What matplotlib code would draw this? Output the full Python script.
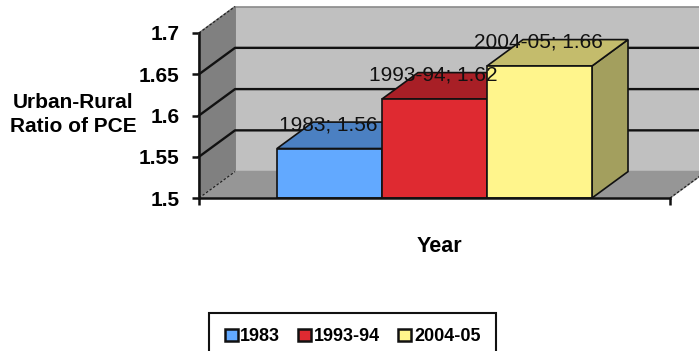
import matplotlib
matplotlib.use("Agg")
import matplotlib.pyplot as plt
from matplotlib.patches import Polygon, Patch

plt.rcParams['font.family'] = ['Liberation Sans', 'DejaVu Sans']

years = ["1983", "1993-94", "2004-05"]
ratios = [1.56, 1.62, 1.66]
y_ticks = [1.5, 1.55, 1.6, 1.65, 1.7]
y_tick_labels = ["1.5", "1.55", "1.6", "1.65", "1.7"]

front_colors = ["#62A9FF", "#DF2A31", "#FFF58C"]
top_colors = ["#4B80C2", "#A81F26", "#C4BC6C"]
side_colors = ["#3C689E", "#88191F", "#A39F5E"]

W, H = 699, 351
fig = plt.figure(figsize=(W / 100, H / 100), dpi=100)
ax = fig.add_axes([199 / W, 1 - 198 / H, (670 - 199) / W, (198 - 33) / H])

# one bar is one x unit wide, the margins keep the bars centred on the floor
x_min, x_max = -1.243, 3.243
ax.set_xlim(x_min, x_max)
ax.set_ylim(y_ticks[0], y_ticks[-1])

# 3d depth of the box, in data units
dx = 0.343
dy = 0.032


def face(points, color, z, edge="#111111", lw=1.2):
    ax.add_patch(Polygon(points, closed=True, facecolor=color, edgecolor=edge,
                         linewidth=lw, zorder=z, clip_on=False))


y0, y1 = y_ticks[0], y_ticks[-1]

# back wall, side wall, floor
face([(x_min + dx, y0 + dy), (x_max + dx, y0 + dy), (x_max + dx, y1 + dy), (x_min + dx, y1 + dy)],
     "#C0C0C0", 1, edge="#8A8A8A")
face([(x_min, y0), (x_min + dx, y0 + dy), (x_min + dx, y1 + dy), (x_min, y1)],
     "#808080", 2, edge="#808080")
face([(x_min, y0), (x_max, y0), (x_max + dx, y0 + dy), (x_min + dx, y0 + dy)],
     "#969696", 2, edge="#969696")

# dotted edges of the box
ax.plot([x_min, x_min + dx], [y1, y1 + dy], color="#222222", lw=0.9, ls=(0, (2, 1.5)), zorder=3, clip_on=False)
ax.plot([x_min, x_min + dx], [y0, y0 + dy], color="#222222", lw=0.9, ls=(0, (2, 1.5)), zorder=3, clip_on=False)
ax.plot([x_max, x_max + dx], [y0, y0 + dy], color="#222222", lw=0.9, ls=(0, (2, 1.5)), zorder=3, clip_on=False)

# gridlines run along the side wall and the back wall
for t in y_ticks[1:-1]:
    ax.plot([x_min, x_min + dx, x_max + dx], [t, t + dy, t + dy],
            color="#111111", lw=1.7, zorder=3, clip_on=False)

# the bars, left to right so each one covers the previous side face
for i, (val, fc, tc, sc) in enumerate(zip(ratios, front_colors, top_colors, side_colors)):
    l, r = i - 0.5, i + 0.5
    face([(r, y0), (r + dx, y0 + dy), (r + dx, val + dy), (r, val)], sc, 4 + i)
    face([(l, val), (r, val), (r + dx, val + dy), (l + dx, val + dy)], tc, 4 + i)
    face([(l, y0), (r, y0), (r, val), (l, val)], fc, 4 + i)

for i, (name, val) in enumerate(zip(years, ratios)):
    ax.annotate(f"{name}; {val:.2f}", (i, val), xytext=(-1, 17), textcoords="offset points",
                ha="center", va="center", fontsize=15, color="#111111", zorder=10,
                annotation_clip=False)

ax.patch.set_visible(False)
for s in ["top", "right"]:
    ax.spines[s].set_visible(False)
for s in ["left", "bottom"]:
    ax.spines[s].set_linewidth(1.8)
    ax.spines[s].set_color("#111111")
    ax.spines[s].set_zorder(9)

ax.set_yticks(y_ticks)
ax.set_yticklabels(y_tick_labels, fontsize=15, fontweight="bold")
ax.set_xticks([x_min, x_max])
ax.set_xticklabels(["", ""])
ax.tick_params(axis="both", length=5, width=1.8, color="#111111", pad=9)

fig.text(73 / W, 1 - 102 / H, "Urban-Rural", ha="center", va="center", fontsize=15, fontweight="bold")
fig.text(73 / W, 1 - 126 / H, "Ratio of PCE", ha="center", va="center", fontsize=15, fontweight="bold")
fig.text(439 / W, 1 - 246 / H, "Year", ha="center", va="center", fontsize=15.5, fontweight="bold")

handles = [Patch(facecolor=c, edgecolor="#111111", linewidth=1.8) for c in front_colors]
fig.legend(handles, years, loc="upper center", bbox_to_anchor=(352.5 / W, 1 - 313 / H),
           ncol=3, frameon=True, fancybox=False, edgecolor="#111111", framealpha=1,
           prop={"weight": "bold", "size": 13}, handlelength=0.72, handleheight=0.72,
           handletextpad=0.15, columnspacing=1.0, borderpad=0.85, borderaxespad=0
           ).get_frame().set_linewidth(1.5)

fig.savefig("out.png", dpi=100)
